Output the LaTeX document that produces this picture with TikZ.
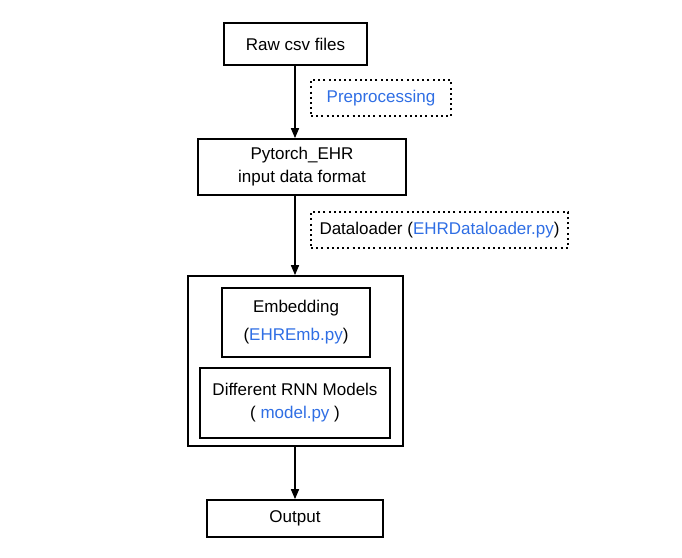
\documentclass[tikz,border=0pt]{standalone}
\usepackage{fontspec}
\setmainfont{Liberation Sans}
\usetikzlibrary{arrows.meta}
\definecolor{linkblue}{RGB}{47,110,228}
\tikzset{
  box/.style={draw=black, line width=1.7pt, rectangle, inner sep=0pt, align=center,
    font={\fontsize{17}{23}\selectfont}},
  dotbox/.style={draw=black, line width=2pt, dash pattern=on 2pt off 3.2pt, rectangle, inner sep=0pt, align=center,
    font={\fontsize{17}{23}\selectfont}},
  flow/.style={draw=black, line width=1.6pt, -{Triangle[length=10pt,width=8pt]}},
  lnk/.style={text=linkblue}
}
\begin{document}
\begin{tikzpicture}[x=1pt,y=-1pt]
\useasboundingbox (0,0) rectangle (682,557);
% boxes
\node[box, minimum width=143pt, minimum height=42pt] (raw) at (295.5,44) {Raw csv files};
\node[dotbox, minimum width=140pt, minimum height=36pt] (pre) at (381,98) {\textcolor{linkblue}{Preprocessing}};
\node[box, minimum width=208pt, minimum height=56pt] (pt) at (302,167) {Pytorch\_EHR\\input data format};
\node[dotbox, minimum width=257pt, minimum height=36pt] (dl) at (439.5,230) {Dataloader (\textcolor{linkblue}{EHRDataloader.py})};
\node[box, minimum width=215pt, minimum height=170pt] (big) at (295.5,361) {};
\node[box, minimum width=148pt, minimum height=69pt, font={\fontsize{17}{28}\selectfont}] (emb) at (296,322.5) {Embedding\hspace{14pt}\\(\textcolor{linkblue}{EHREmb.py})};
\node[box, minimum width=190pt, minimum height=70pt] (rnn) at (295,403) {Different RNN Models\\( \textcolor{linkblue}{model.py} )};
\node[box, minimum width=176pt, minimum height=37pt] (out) at (295,518.5) {Output};
% connectors
\draw[flow] (raw.south -| 295,0) -- (pt.north -| 295,0);
\draw[flow] (pt.south -| 295,0) -- (big.north -| 295,0);
\draw[flow] (big.south -| 295,0) -- (out.north -| 295,0);
\end{tikzpicture}
\end{document}
